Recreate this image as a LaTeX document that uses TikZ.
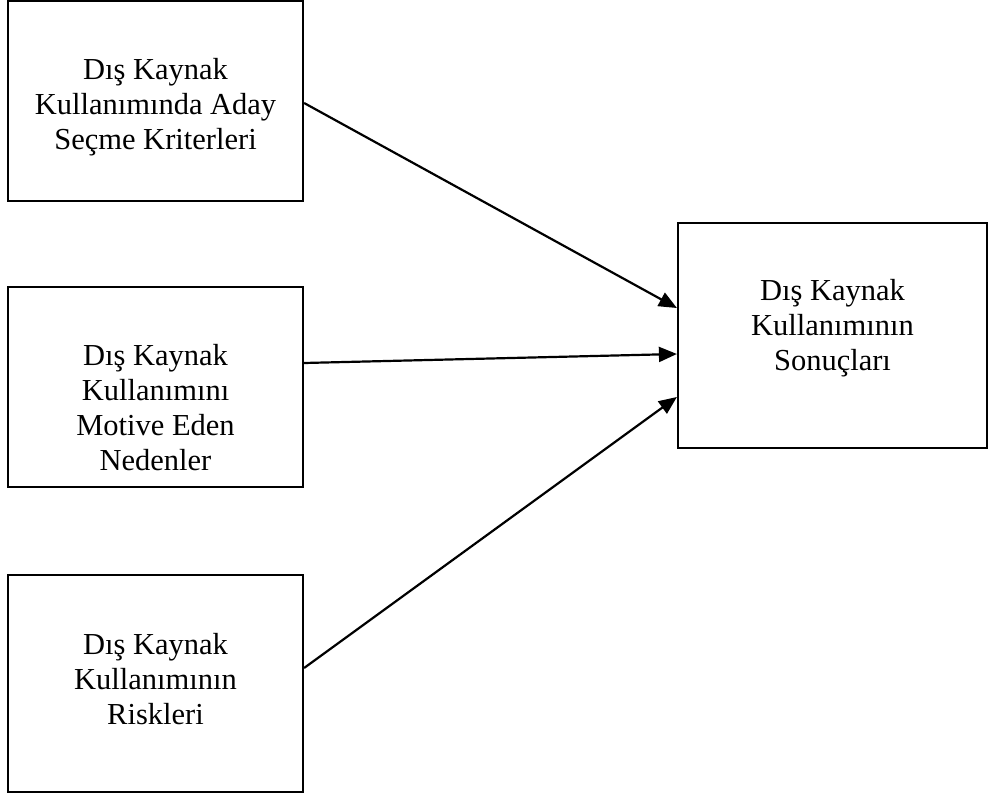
\documentclass[tikz,border=0pt]{standalone}
\usepackage{fontspec}
\setmainfont{Liberation Serif}
\usetikzlibrary{arrows.meta}
\begin{document}
\begin{tikzpicture}[x=1pt,y=-1pt,
  framebox/.style={draw=black,line width=2.2pt,rectangle,inner sep=0pt},
  boxtext/.style={anchor=north,inner sep=0pt,align=center,
    font=\fontsize{30.5}{35}\selectfont},
  link/.style={line width=2.2pt,-{Triangle[length=18pt,width=15pt]}}]
\useasboundingbox (0,0) rectangle (990,799);
% four boxes
\node[framebox,minimum width=295pt,minimum height=200pt] (b1) at (155.5,101) {};
\node[framebox,minimum width=295pt,minimum height=200pt] (b2) at (155.5,387) {};
\node[framebox,minimum width=295pt,minimum height=217pt] (b3) at (155.5,683.5) {};
\node[framebox,minimum width=309pt,minimum height=225pt] (b4) at (832.5,335.5) {};
% box labels
\node[boxtext] (t1) at (155.5,58.2) {Dış Kaynak\\Kullanımında Aday\\Seçme Kriterleri};
\node[boxtext] (t2) at (155.5,344.5) {Dış Kaynak\\Kullanımını\\Motive Eden\\Nedenler};
\node[boxtext] (t3) at (155.5,633) {Dış Kaynak\\Kullanımının\\Riskleri};
\node[boxtext] (t4) at (832.5,279.5) {Dış Kaynak\\Kullanımının\\Sonuçları};
% connectors
\draw[link] ([yshift=-2pt]b1.east) -- ([yshift=27.5pt]b4.west);
\draw[link] ([yshift=24pt]b2.east) -- ([yshift=-18.5pt]b4.west);
\draw[link] ([yshift=15.5pt]b3.east) -- ([yshift=-61.5pt]b4.west);
\end{tikzpicture}
\end{document}
